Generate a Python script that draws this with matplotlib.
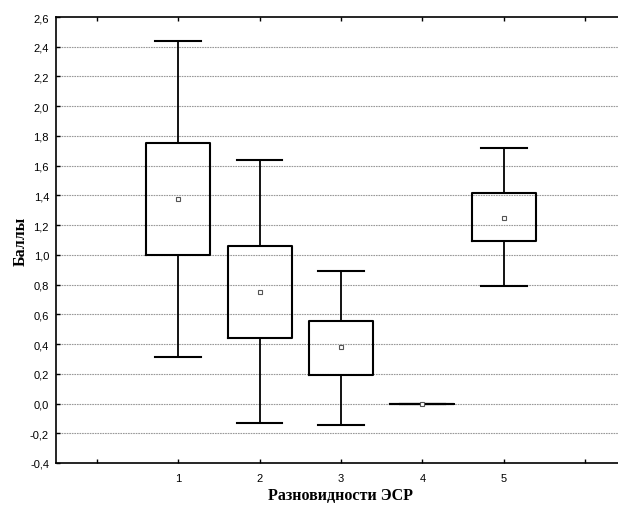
import matplotlib
matplotlib.use("Agg")
import matplotlib.pyplot as plt
from matplotlib.ticker import FuncFormatter

categories = [1, 2, 3, 4, 5]
means = [1.375, 0.75, 0.38, 0.0, 1.25]
box_low = [1.00, 0.44, 0.195, 0.0, 1.09]
box_high = [1.75, 1.06, 0.556, 0.0, 1.414]
whisk_low = [0.31, -0.13, -0.144, 0.0, 0.79]
whisk_high = [2.44, 1.64, 0.89, 0.0, 1.72]

y_ticks = [-0.4 + 0.2 * i for i in range(16)]

stats = []
for i in range(len(categories)):
    stats.append({
        "mean": means[i],
        "med": means[i],
        "q1": box_low[i],
        "q3": box_high[i],
        "whislo": whisk_low[i],
        "whishi": whisk_high[i],
        "fliers": [],
    })

fig = plt.figure(figsize=(6.18, 5.06), dpi=100)
# axes run past the right edge of the image, as in the reference
ax = fig.add_axes([56 / 618, 1 - 464 / 506, 570 / 618, 446 / 506])

ax.bxp(stats, positions=categories, widths=0.785, showmeans=True,
       patch_artist=False, capwidths=0.56,
       boxprops=dict(color="black", linewidth=1.5),
       whiskerprops=dict(color="black", linewidth=1.3),
       capprops=dict(color="black", linewidth=1.5),
       medianprops=dict(linewidth=0),
       meanprops=dict(marker="s", markerfacecolor="white",
                      markeredgecolor="#555555", markersize=3.5,
                      markeredgewidth=0.8),
       zorder=3)

ax.set_xlim(-0.5, 6.5)
ax.set_ylim(-0.4, 2.6)
ax.set_xticks(range(0, 7))
ax.set_xticklabels([""] + [str(c) for c in categories] + [""])
ax.set_yticks(y_ticks)
ax.yaxis.set_major_formatter(FuncFormatter(lambda v, p: f"{v:.1f}".replace(".", ",").replace("-0,0", "0,0")))

for y in y_ticks[1:-1]:
    ax.axhline(y, color="#999999", linestyle=(0, (1.5, 0.8)), linewidth=0.8, zorder=1)

ax.tick_params(direction="in", length=3, width=1, labelsize=8,
               top=True, right=False)
ax.tick_params(axis="y", pad=5)
ax.tick_params(axis="x", pad=7)
for lbl in ax.get_xticklabels() + ax.get_yticklabels():
    lbl.set_fontfamily("Liberation Sans")
for s in ["left", "top", "bottom"]:
    ax.spines[s].set_linewidth(1.2)
ax.spines["right"].set_visible(False)

ax.set_xlabel("Разновидности ЭСР", fontfamily="Liberation Serif",
              fontweight="bold", fontsize=11.5, labelpad=3)
ax.set_ylabel("Баллы", fontfamily="Liberation Serif",
              fontweight="bold", fontsize=11.5, labelpad=1)

fig.savefig("out.png", dpi=100)
